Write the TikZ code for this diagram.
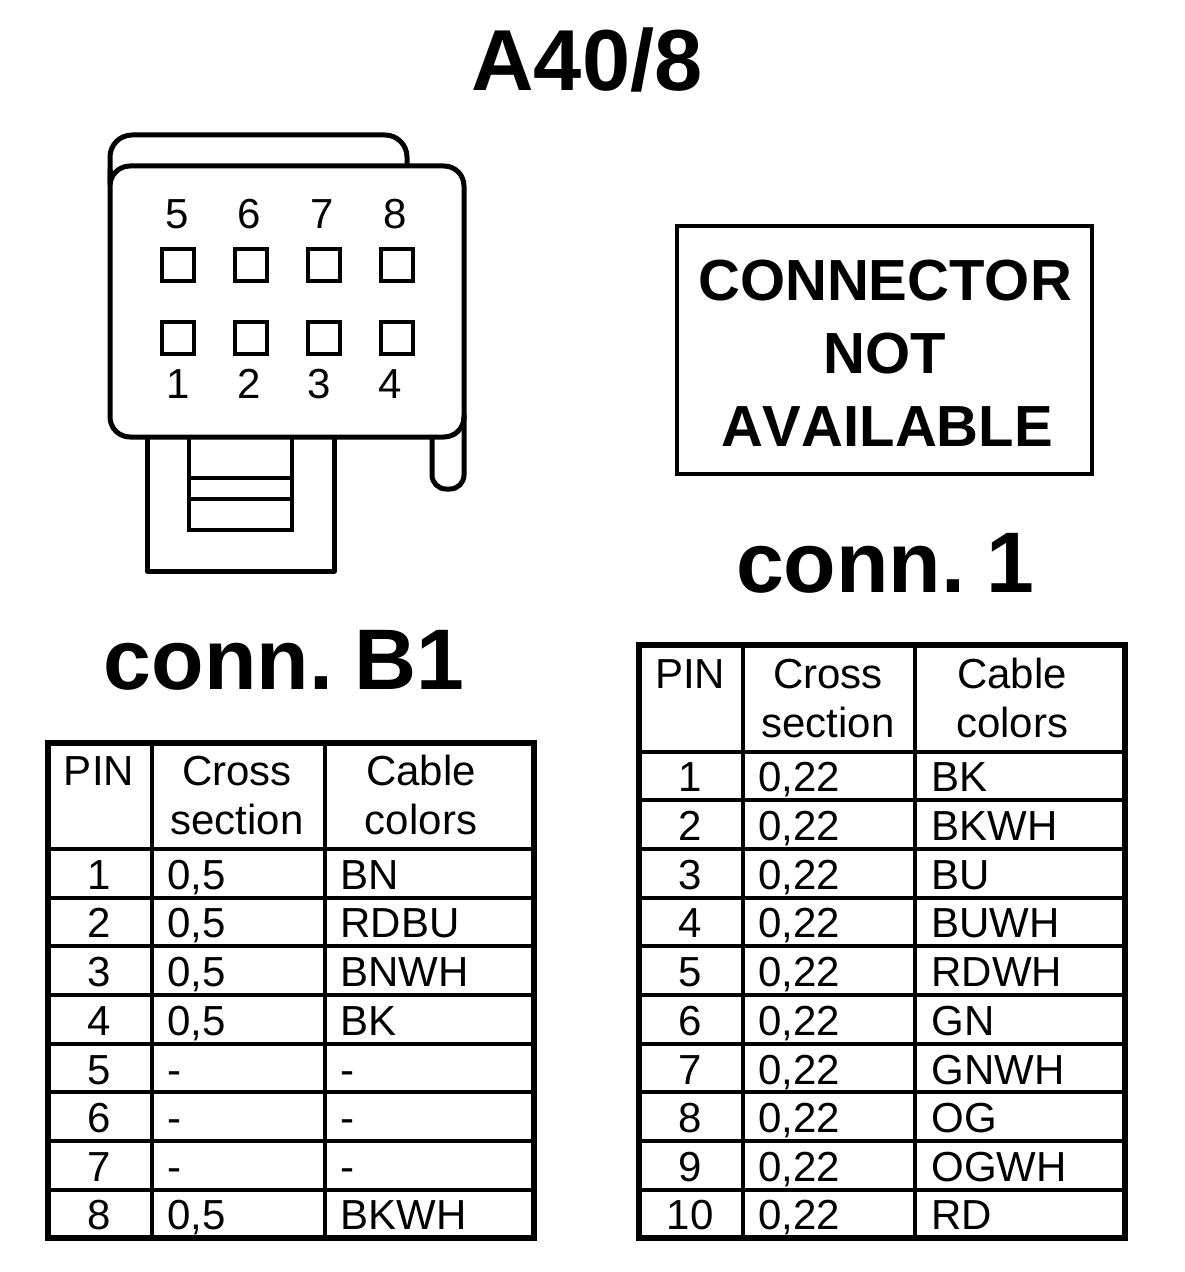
\documentclass[tikz,border=0pt]{standalone}
\usepackage{fontspec}
\setmainfont[Kerning=Off]{Liberation Sans}
\tikzset{
 x=0.5pt,y=-0.5pt,
 outer line/.style={draw=black,line width=3pt},
 inner line/.style={draw=black,line width=2.2pt},
 part/.style={draw=black,line width=2.5pt,line join=round},
 partin/.style={draw=black,line width=2.1pt},
 celltxt/.style={font=\fontsize{21}{21}\selectfont,inner sep=0pt,anchor=base,yshift=-7.25pt},
 leftcell/.style={celltxt,anchor=base west},
 pinlabel/.style={font=\fontsize{21}{21}\selectfont,inner sep=0pt,anchor=base},
 pinbox/.style={draw=black,line width=2pt,fill=white,minimum size=16pt,inner sep=0pt},
 bigtitle/.style={font=\fontsize{43.3}{43.3}\selectfont\bfseries,inner sep=0pt},
 noticetxt/.style={font=\fontsize{29}{29}\selectfont\bfseries,inner sep=0pt},
}
\begin{document}
\begin{tikzpicture}
\useasboundingbox (0,0) rectangle (1184,1272);
\fill[white] (0,0) rectangle (1184,1272);
% titles
\node[bigtitle] (title) at (587,60) {A40/8};
\node[bigtitle,font=\fontsize{43}{43}\selectfont\bfseries] (c1) at (885,563) {conn.\hspace{-5.5pt} 1};
\node[bigtitle,font=\fontsize{43}{43}\selectfont\bfseries] (cb1) at (284,660) {conn.\hspace{-5.5pt} B1};
% notice
\node[draw=black,line width=2pt,minimum width=207.5pt,minimum height=124pt,inner sep=0pt] (notice) at (884.5,350) {};
\node[noticetxt] (n1) at (885,281) {CONNECTOR};
\node[noticetxt] (n2) at (885,354) {NOT};
\node[noticetxt] (n3) at (887,427) {AVAILABLE};
% connector
\draw[part] (147,437) -- (147,571) -- (334,571) -- (334,437);
\draw[partin] (189,437) -- (189,530) -- (292,530) -- (292,437);
\draw[partin] (189,478) -- (292,478);
\draw[partin] (189,499) -- (292,499);
\draw[part,rounded corners=10pt] (110,190) -- (110,437) -- (464,437) -- (464,166) -- (110,166) -- cycle;
\draw[part,rounded corners=11pt] (110,185) -- (110,135) -- (407,135) -- (407,166);
\draw[part,rounded corners=7pt] (432,437) -- (432,489) -- (464,489) -- (464,415);
\foreach \n/\x in {5/177,6/249,7/322,8/395}{\node[pinlabel] (t\n) at (\x,229) {\n};}
\foreach \n/\x in {1/178,2/249,3/319,4/390}{\node[pinlabel] (t\n) at (\x,399) {\n};}
\foreach \n/\x in {5/178,6/251,7/324,8/397}{\node[pinbox] (b\n) at (\x,265.5) {};}
\foreach \n/\x in {1/178,2/251,3/324,4/397}{\node[pinbox] (b\n) at (\x,338) {};}
% table B1
\foreach \x in {152,325}{\draw[inner line] (\x,743) -- (\x,1239);}
\foreach \y in {849,898,946,995,1044,1092,1141,1190}{\draw[inner line,line width=2pt] (47,\y) -- (534,\y);}
\draw[outer line] (48,743) rectangle (534,1238);
\node[celltxt] (bh1) at (99,771) {PIN};
\node[celltxt] (bh2) at (237,771) {Cross};
\node[celltxt] (bh3) at (237,820) {section};
\node[celltxt] (bh4) at (421,771) {Cable};
\node[celltxt] (bh5) at (421,820) {colors};
\foreach \p/\y/\cs/\col in {1/875/{0,5}/BN,2/923/{0,5}/RDBU,3/972/{0,5}/BNWH,4/1021/{0,5}/BK,5/1070/-/-,6/1118/-/-,7/1167/-/-,8/1215/{0,5}/BKWH}{
 \node[celltxt] (bp\p) at (99,\y) {\p};
 \node[leftcell] (bs\p) at (167,\y) {\cs};
 \node[leftcell] (bc\p) at (340,\y) {\col};
}
% table 1
\foreach \x in {743,915}{\draw[inner line] (\x,645) -- (\x,1238);}
\foreach \y in {752,800,849,898,946,995,1044,1092,1141,1190}{\draw[inner line,line width=2pt] (638,\y) -- (1125,\y);}
\draw[outer line] (639,645) rectangle (1125,1238);
\node[celltxt] (ah1) at (690,674) {PIN};
\node[celltxt] (ah2) at (828,674) {Cross};
\node[celltxt] (ah3) at (828,723) {section};
\node[celltxt] (ah4) at (1012,674) {Cable};
\node[celltxt] (ah5) at (1012,723) {colors};
\foreach \p/\y/\col in {1/777/BK,2/826/BKWH,3/875/BU,4/923/BUWH,5/972/RDWH,6/1021/GN,7/1070/GNWH,8/1118/OG,9/1167/OGWH,10/1215/RD}{
 \node[celltxt] (ap\p) at (690,\y) {\p};
 \node[leftcell] (as\p) at (758,\y) {0,22};
 \node[leftcell] (ac\p) at (931,\y) {\col};
}
\end{tikzpicture}
\end{document}
